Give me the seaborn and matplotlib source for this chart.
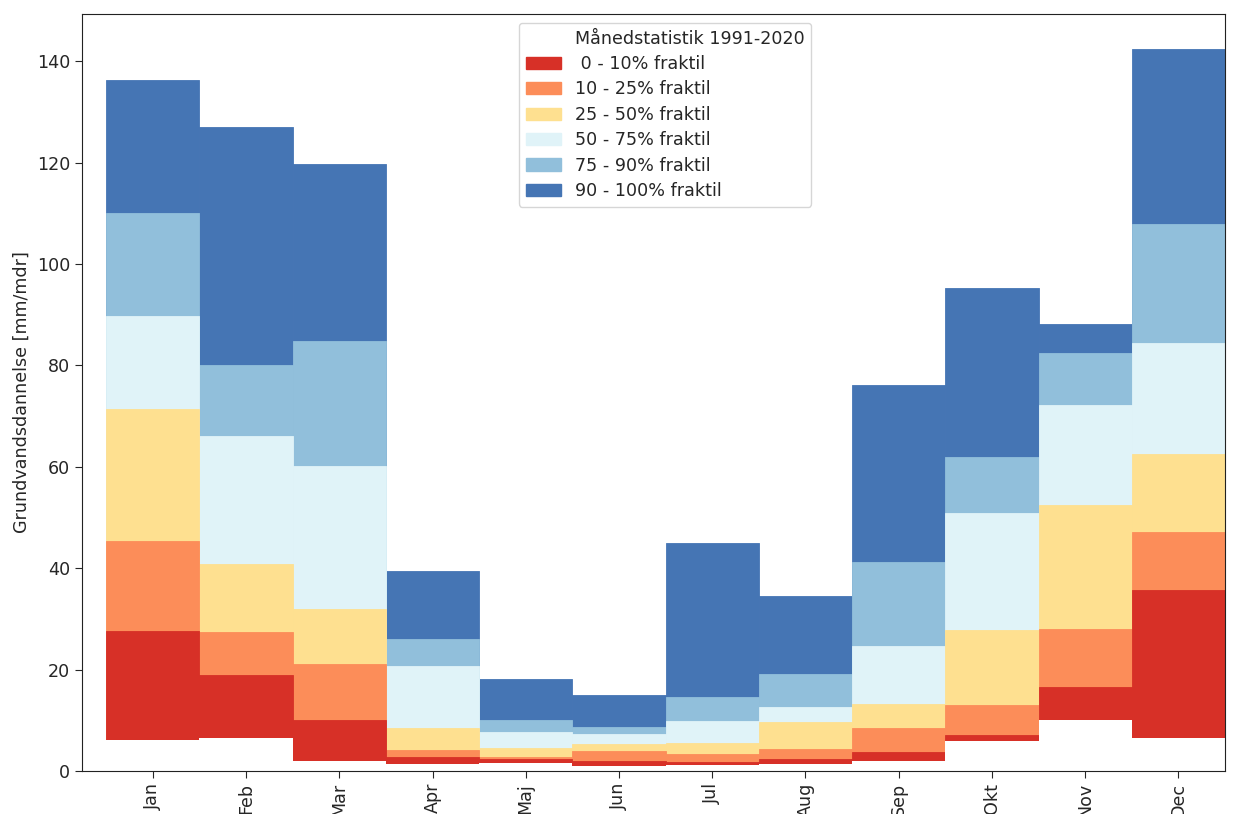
import numpy as np
import pandas as pd
import seaborn as sns
import matplotlib
matplotlib.use("Agg")
import matplotlib.pyplot as plt
from matplotlib.patches import Patch

# Months and quantile boundaries (mm/mdr)
months = ["Jan", "Feb", "Mar", "Apr", "Maj", "Jun", "Jul", "Aug", "Sep", "Okt", "Nov", "Dec"]
q000 = [6.1, 6.5, 1.9, 1.4, 1.6, 1.0, 1.25, 1.3, 2.0, 5.9, 10.1, 6.6]
q010 = [27.6, 18.9, 10.1, 2.7, 2.4, 1.9, 1.7, 2.4, 3.8, 7.1, 16.5, 35.7]
q025 = [45.4, 27.4, 21.1, 4.1, 2.8, 3.9, 3.4, 4.3, 8.5, 13.1, 28.0, 47.1]
q050 = [71.4, 40.8, 31.9, 8.4, 4.6, 5.4, 5.5, 9.7, 13.2, 27.9, 52.5, 62.5]
q075 = [89.7, 66.1, 60.1, 20.8, 7.6, 7.3, 9.8, 12.7, 24.6, 50.9, 72.2, 84.4]
q090 = [110.0, 80.1, 84.8, 26.0, 10.1, 8.6, 14.5, 19.1, 41.2, 61.9, 82.4, 107.9]
q100 = [136.3, 127.0, 119.7, 39.5, 18.1, 14.9, 45.0, 34.6, 76.1, 95.2, 88.1, 142.4]

labels = [" 0 - 10% fraktil", "10 - 25% fraktil", "25 - 50% fraktil",
          "50 - 75% fraktil", "75 - 90% fraktil", "90 - 100% fraktil"]
colors = ["#d73027", "#fc8d59", "#fee090", "#e0f3f8", "#91bfdb", "#4575b4"]

sns.set_style("ticks")
plt.rcParams["font.family"] = ["DejaVu Sans"]
plt.rcParams["font.size"] = 12.6
plt.rcParams["xtick.major.size"] = 5
plt.rcParams["ytick.major.size"] = 5

fig = plt.figure(figsize=(12.38, 8.14), dpi=100)
ax = fig.add_axes([0.0662, 0.0528, 0.9233, 0.93])

df = pd.DataFrame({"month": months, "q000": q000, "q010": q010, "q025": q025,
                   "q050": q050, "q075": q075, "q090": q090, "q100": q100})

# draw from the top quantile down so each layer covers the one above's lower part
tops = ["q100", "q090", "q075", "q050", "q025", "q010"]
for col, c in zip(tops, colors[::-1]):
    sns.barplot(data=df, x="month", y=col, color=c, width=1, errorbar=None,
                saturation=1, linewidth=0.6, edgecolor=c, ax=ax)
# blank out below the minimum
sns.barplot(data=df, x="month", y="q000", color="white", width=1, errorbar=None,
            saturation=1, linewidth=0, ax=ax)

ax.set_xlim(-0.76, 11.5)
ax.set_ylim(0, 149.3)
ax.set_xlabel("")
ax.set_ylabel("Grundvandsdannelse [mm/mdr]")
ax.set_yticks([0, 20, 40, 60, 80, 100, 120, 140])
ax.tick_params(axis="x", rotation=90)
for s in ax.spines.values():
    s.set_visible(True)
    s.set_color("#222222")

handles = [Patch(facecolor="none", edgecolor="none")] + \
          [Patch(facecolor=c, edgecolor=c) for c in colors]
ax.legend(handles, ["Månedstatistik 1991-2020"] + labels, loc="upper center",
          bbox_to_anchor=(0.51, 1.0), frameon=True, fontsize=12.6,
          labelspacing=0.42)

fig.savefig("out.png", dpi=100)
